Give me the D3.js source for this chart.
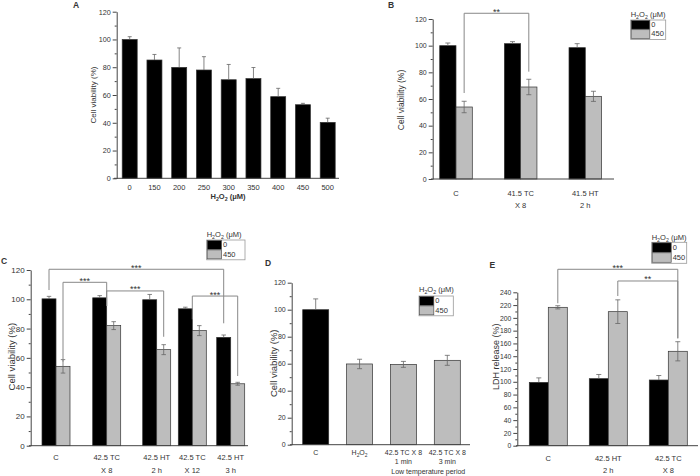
<!DOCTYPE html>
<html><head><meta charset="utf-8">
<script src="https://cdn.jsdelivr.net/npm/d3@7"></script>
<style>body{margin:0;background:#fff}svg{display:block}text{font-family:"Liberation Sans",Arial,sans-serif;fill:#333}</style>
</head><body><svg id="c" width="700" height="476"></svg>
<script>
// ---------- DATA ----------
const seriesLabels = ["0", "450"];
const seriesColors = ["#000000", "#bdbdbd"];

// Panel A
const aCats = ["0","150","200","250","300","350","400","450","500"];
const aMean = [100, 85.2, 79.9, 78, 71, 71.8, 58.8, 53, 40.3];
const aErr  = [2, 4, 14, 9.6, 11, 8, 6, 1, 3];

// Panel B
const bCats = ["C", "41.5 TC|X 8", "41.5 HT|2 h"];
const bMean0 = [100, 101.5, 98.5];
const bErr0  = [2, 1.5, 3];
const bMean450 = [54, 69, 62];
const bErr450  = [4.3, 5.8, 3.8];
const bBrackets = [
  {from: ["C", 1], to: ["41.5 TC|X 8", 1], top: 124.3, y1: 64.5, y2: 80.5, label: "**"}
];

// Panel C
const cCats = ["C", "42.5 TC|X 8", "42.5 HT|2 h", "42.5 TC|X 12", "42.5 HT|3 h"];
const cMean0 = [100.3, 101, 99.7, 93.5, 74];
const cErr0  = [1.7, 1.5, 3.6, 1.1, 1.6];
const cMean450 = [54.2, 82, 65.6, 78.6, 42.3];
const cErr450  = [4.6, 2.7, 3.4, 3.4, 1];
const cBrackets = [
  {from: ["C", 0], to: ["42.5 HT|3 h", 0], top: 120.5, y1: 106.3, y2: 83.6, label: "***"},
  {from: ["C", 1], to: ["42.5 TC|X 8", 0.5], top: 111.6, y1: 57.4, y2: 95.4, label: "***"},
  {from: ["42.5 TC|X 8", 0.5], to: ["42.5 HT|2 h", 1], top: 105.7, y1: 95.4, y2: 74.4, label: "***"},
  {from: ["42.5 TC|X 12", 0.5], to: ["42.5 HT|3 h", 1], top: 102.2, y1: 86.3, y2: 47.6, label: "***"}
];

// Panel D
const dCats = ["C", "H2O2", "42.5 TC X 8|1 min", "42.5 TC X 8|3 min"];
const dMean = [100, 59.8, 59.5, 62.5];
const dErr  = [8, 3.5, 2.2, 3.7];
const dSeries = [0, 1, 1, 1];
const dGroupLabel = "Low temperature period";

// Panel E
const eCats = ["C", "42.5 HT|2 h", "42.5 TC|X 8"];
const eMean0 = [99.1, 104.9, 102.8];
const eErr0  = [7, 6.5, 7];
const eMean450 = [216.5, 209.7, 147.7];
const eErr450  = [2.5, 18.5, 15];
const eBrackets = [
  {from: ["C", 1], to: ["42.5 TC|X 8", 1], top: 276, y1: 222.8, y2: 168, label: "***"},
  {from: ["42.5 HT|2 h", 1], to: ["42.5 TC|X 8", 1], top: 257.7, y1: 234.2, y2: 168, label: "**"}
];

// ---------- HELPERS ----------
const svg = d3.select("#c");
const AX = "#444";

function h2o2(text, fs, suffix) {
  const d = fs * 0.28;
  text.append("tspan").text("H");
  text.append("tspan").attr("dy", d).attr("font-size", fs * 0.7).text("2");
  text.append("tspan").attr("dy", -d).text("O");
  text.append("tspan").attr("dy", d).attr("font-size", fs * 0.7).text("2");
  text.append("tspan").attr("dy", -d).text(suffix || "");
}

function yAxis(g, y, ax, yMax, step, fs) {
  const major = d3.range(0, yMax + 0.001, step);
  const minor = d3.range(step / 2, yMax, step);
  const a = g.append("g").attr("transform", `translate(${ax},0)`)
    .call(d3.axisLeft(y).tickValues(major).tickSize(4).tickSizeOuter(0).tickPadding(2));
  a.select(".domain").attr("stroke", AX).attr("stroke-width", 1);
  a.selectAll(".tick line").attr("stroke", AX);
  a.selectAll(".tick text").attr("font-size", fs).attr("font-family", null).attr("fill", "#333");
  const m = g.append("g").attr("transform", `translate(${ax},0)`)
    .call(d3.axisLeft(y).tickValues(minor).tickSize(2).tickFormat(""));
  m.select(".domain").remove();
  m.selectAll(".tick line").attr("stroke", AX);
}

function xBase(g, x1, x2, yPix) {
  g.append("line").attr("x1", x1).attr("x2", x2).attr("y1", yPix).attr("y2", yPix)
    .attr("stroke", AX).attr("stroke-width", 1);
}

function bars(g, x, y, cats, seriesList, barW, capW) {
  const n = seriesList.length;
  seriesList.forEach((s, si) => {
    const off = (si - (n - 1) / 2) * barW;
    cats.forEach((c, i) => {
      const ci = Array.isArray(s.colorIdx) ? s.colorIdx[i] : s.colorIdx;
      const cx = x(c) + off;
      g.append("rect").attr("x", cx - barW / 2).attr("width", barW)
        .attr("y", y(s.mean[i])).attr("height", y(0) - y(s.mean[i]))
        .attr("fill", seriesColors[ci]).attr("stroke", "#333").attr("stroke-width", 0.7);
      const top = y(s.mean[i] + s.err[i]);
      const bot = ci === 0 ? y(s.mean[i]) : y(s.mean[i] - s.err[i]);
      const eg = g.append("g").attr("stroke", "#666").attr("stroke-width", 0.8);
      eg.append("line").attr("x1", cx).attr("x2", cx).attr("y1", top).attr("y2", bot);
      eg.append("line").attr("x1", cx - capW / 2).attr("x2", cx + capW / 2).attr("y1", top).attr("y2", top);
      if (ci !== 0) eg.append("line").attr("x1", cx - capW / 2).attr("x2", cx + capW / 2).attr("y1", bot).attr("y2", bot);
    });
  });
}

function xLabels(g, x, cats, base1, lineH, fs) {
  cats.forEach(c => {
    const lines = c.split("|");
    lines.forEach((ln, k) => {
      const t = g.append("text").attr("x", x(c)).attr("y", base1 + k * lineH)
        .attr("text-anchor", "middle").attr("font-size", fs);
      if (ln === "H2O2") h2o2(t, fs, ""); else t.text(ln);
    });
  });
}

function yLabel(g, txt, cx, cy, fs) {
  g.append("text").attr("transform", `translate(${cx},${cy}) rotate(-90)`)
    .attr("text-anchor", "middle").attr("dy", "0.35em").attr("font-size", fs).text(txt);
}

function panelLetter(g, l, x, y) {
  g.append("text").attr("x", x).attr("y", y).attr("font-size", 8.5).attr("font-weight", "bold")
    .attr("fill", "#222").text(l);
}

function legend(g, x, titleBase, boxTop, boxW, swW, rowH, fs) {
  const t = g.append("text").attr("x", x).attr("y", titleBase).attr("font-size", fs);
  h2o2(t, fs, " (\u03bcM)");
  g.append("rect").attr("x", x).attr("y", boxTop).attr("width", boxW).attr("height", rowH * 2 + 1)
    .attr("fill", "#fff").attr("stroke", "#999").attr("stroke-width", 0.8);
  seriesLabels.forEach((lab, i) => {
    g.append("rect").attr("x", x + 0.5).attr("y", boxTop + 0.5 + i * rowH).attr("width", swW)
      .attr("height", rowH - 0.5).attr("fill", seriesColors[i]).attr("stroke", "#555").attr("stroke-width", 0.7);
    g.append("text").attr("x", x + swW + 2).attr("y", boxTop + i * rowH + rowH * 0.78)
      .attr("font-size", fs).text(lab);
  });
}

function brackets(g, x, y, list, barW, n, fs) {
  list.forEach(b => {
    const xa = x(b.from[0]) + (b.from[1] - (n - 1) / 2) * barW;
    const xb = x(b.to[0]) + (b.to[1] - (n - 1) / 2) * barW;
    const yt = y(b.top);
    g.append("path").attr("d", `M${xa},${y(b.y1)}V${yt}H${xb}V${y(b.y2)}`)
      .attr("fill", "none").attr("stroke", "#888").attr("stroke-width", 1);
    g.append("text").attr("x", (xa + xb) / 2).attr("y", yt + 1.5).attr("text-anchor", "middle")
      .attr("font-size", fs).attr("fill", "#555").text(b.label);
  });
}

// ---------- PANEL A ----------
{
  const g = svg.append("g");
  const y = d3.scaleLinear([0, 120], [178.3, 11.7]);
  const x = d3.scalePoint(aCats, [129.7, 327.7]);
  bars(g, x, y, aCats, [{mean: aMean, err: aErr, colorIdx: 0}], 15, 4);
  xBase(g, 114, 339, y(0));
  yAxis(g, y, 116.7, 120, 20, 7.2);
  xLabels(g, x, aCats, 190, 10, 7.5);
  const t = g.append("text").attr("x", 228).attr("y", 199).attr("text-anchor", "middle")
    .attr("font-size", 7.5).attr("font-weight", "bold");
  h2o2(t, 7.5, " (\u03bcM)");
  yLabel(g, "Cell viability (%)", 92.7, 95, 8);
  panelLetter(g, "A", 73, 8);
}

// ---------- PANEL B ----------
{
  const g = svg.append("g");
  const y = d3.scaleLinear([0, 120], [179, 19]);
  const x = d3.scalePoint(bCats, [456, 585.3]);
  const bw = 16.3;
  bars(g, x, y, bCats, [{mean: bMean0, err: bErr0, colorIdx: 0}, {mean: bMean450, err: bErr450, colorIdx: 1}], bw, 5);
  xBase(g, 431, 614, y(0));
  yAxis(g, y, 432.7, 120, 20, 7);
  xLabels(g, x, bCats, 195.5, 12.5, 7.5);
  yLabel(g, "Cell viability (%)", 401, 100, 8.5);
  brackets(g, x, y, bBrackets, bw, 2, 9);
  legend(g, 630.7, 16.5, 20, 35, 18.6, 9.2, 7.5);
  panelLetter(g, "B", 388, 8);
}

// ---------- PANEL C ----------
{
  const g = svg.append("g");
  const y = d3.scaleLinear([0, 120], [445.7, 270]);
  const x = d3.scaleOrdinal(cCats, [56, 106.7, 156.7, 192.3, 230.7]);
  const bw = 14;
  bars(g, x, y, cCats, [{mean: cMean0, err: cErr0, colorIdx: 0}, {mean: cMean450, err: cErr450, colorIdx: 1}], bw, 4.5);
  xBase(g, 29, 248, y(0));
  yAxis(g, y, 30.7, 120, 20, 8);
  xLabels(g, x, cCats, 460, 13.2, 7.5);
  yLabel(g, "Cell viability (%)", 11.7, 356.7, 9.5);
  brackets(g, x, y, cBrackets, bw, 2, 9);
  legend(g, 206.7, 237, 240, 38.3, 14.3, 9.4, 7.5);
  panelLetter(g, "C", 1, 264);
}

// ---------- PANEL D ----------
{
  const g = svg.append("g");
  const y = d3.scaleLinear([0, 120], [444.7, 282.7]);
  const x = d3.scalePoint(dCats, [315.7, 447.3]);
  bars(g, x, y, dCats, [{mean: dMean, err: dErr, colorIdx: dSeries}], 26, 5);
  xBase(g, 290, 470, y(0));
  yAxis(g, y, 291.7, 120, 20, 7);
  xLabels(g, x, dCats, 455, 9, 7);
  g.append("text").attr("x", 428.3).attr("y", 473.5).attr("text-anchor", "middle")
    .attr("font-size", 7).text(dGroupLabel);
  yLabel(g, "Cell viability (%)", 273.3, 363.3, 9.5);
  legend(g, 419, 291.5, 296, 34.3, 14.3, 9.4, 7.5);
  panelLetter(g, "D", 265, 266);
}

// ---------- PANEL E ----------
{
  const g = svg.append("g");
  const y = d3.scaleLinear([0, 240], [445.7, 292.3]);
  const x = d3.scalePoint(eCats, [548.3, 668.3]);
  const bw = 19;
  bars(g, x, y, eCats, [{mean: eMean0, err: eErr0, colorIdx: 0}, {mean: eMean450, err: eErr450, colorIdx: 1}], bw, 5);
  xBase(g, 516, 698, y(0));
  yAxis(g, y, 517.3, 240, 20, 6.8);
  xLabels(g, x, eCats, 461, 11.5, 7.5);
  yLabel(g, "LDH release (%)", 495.5, 356.7, 9);
  brackets(g, x, y, eBrackets, bw, 2, 9);
  legend(g, 651.7, 239.5, 242.3, 35, 19, 10, 7.5);
  panelLetter(g, "E", 489.5, 268);
}
</script></body></html>
